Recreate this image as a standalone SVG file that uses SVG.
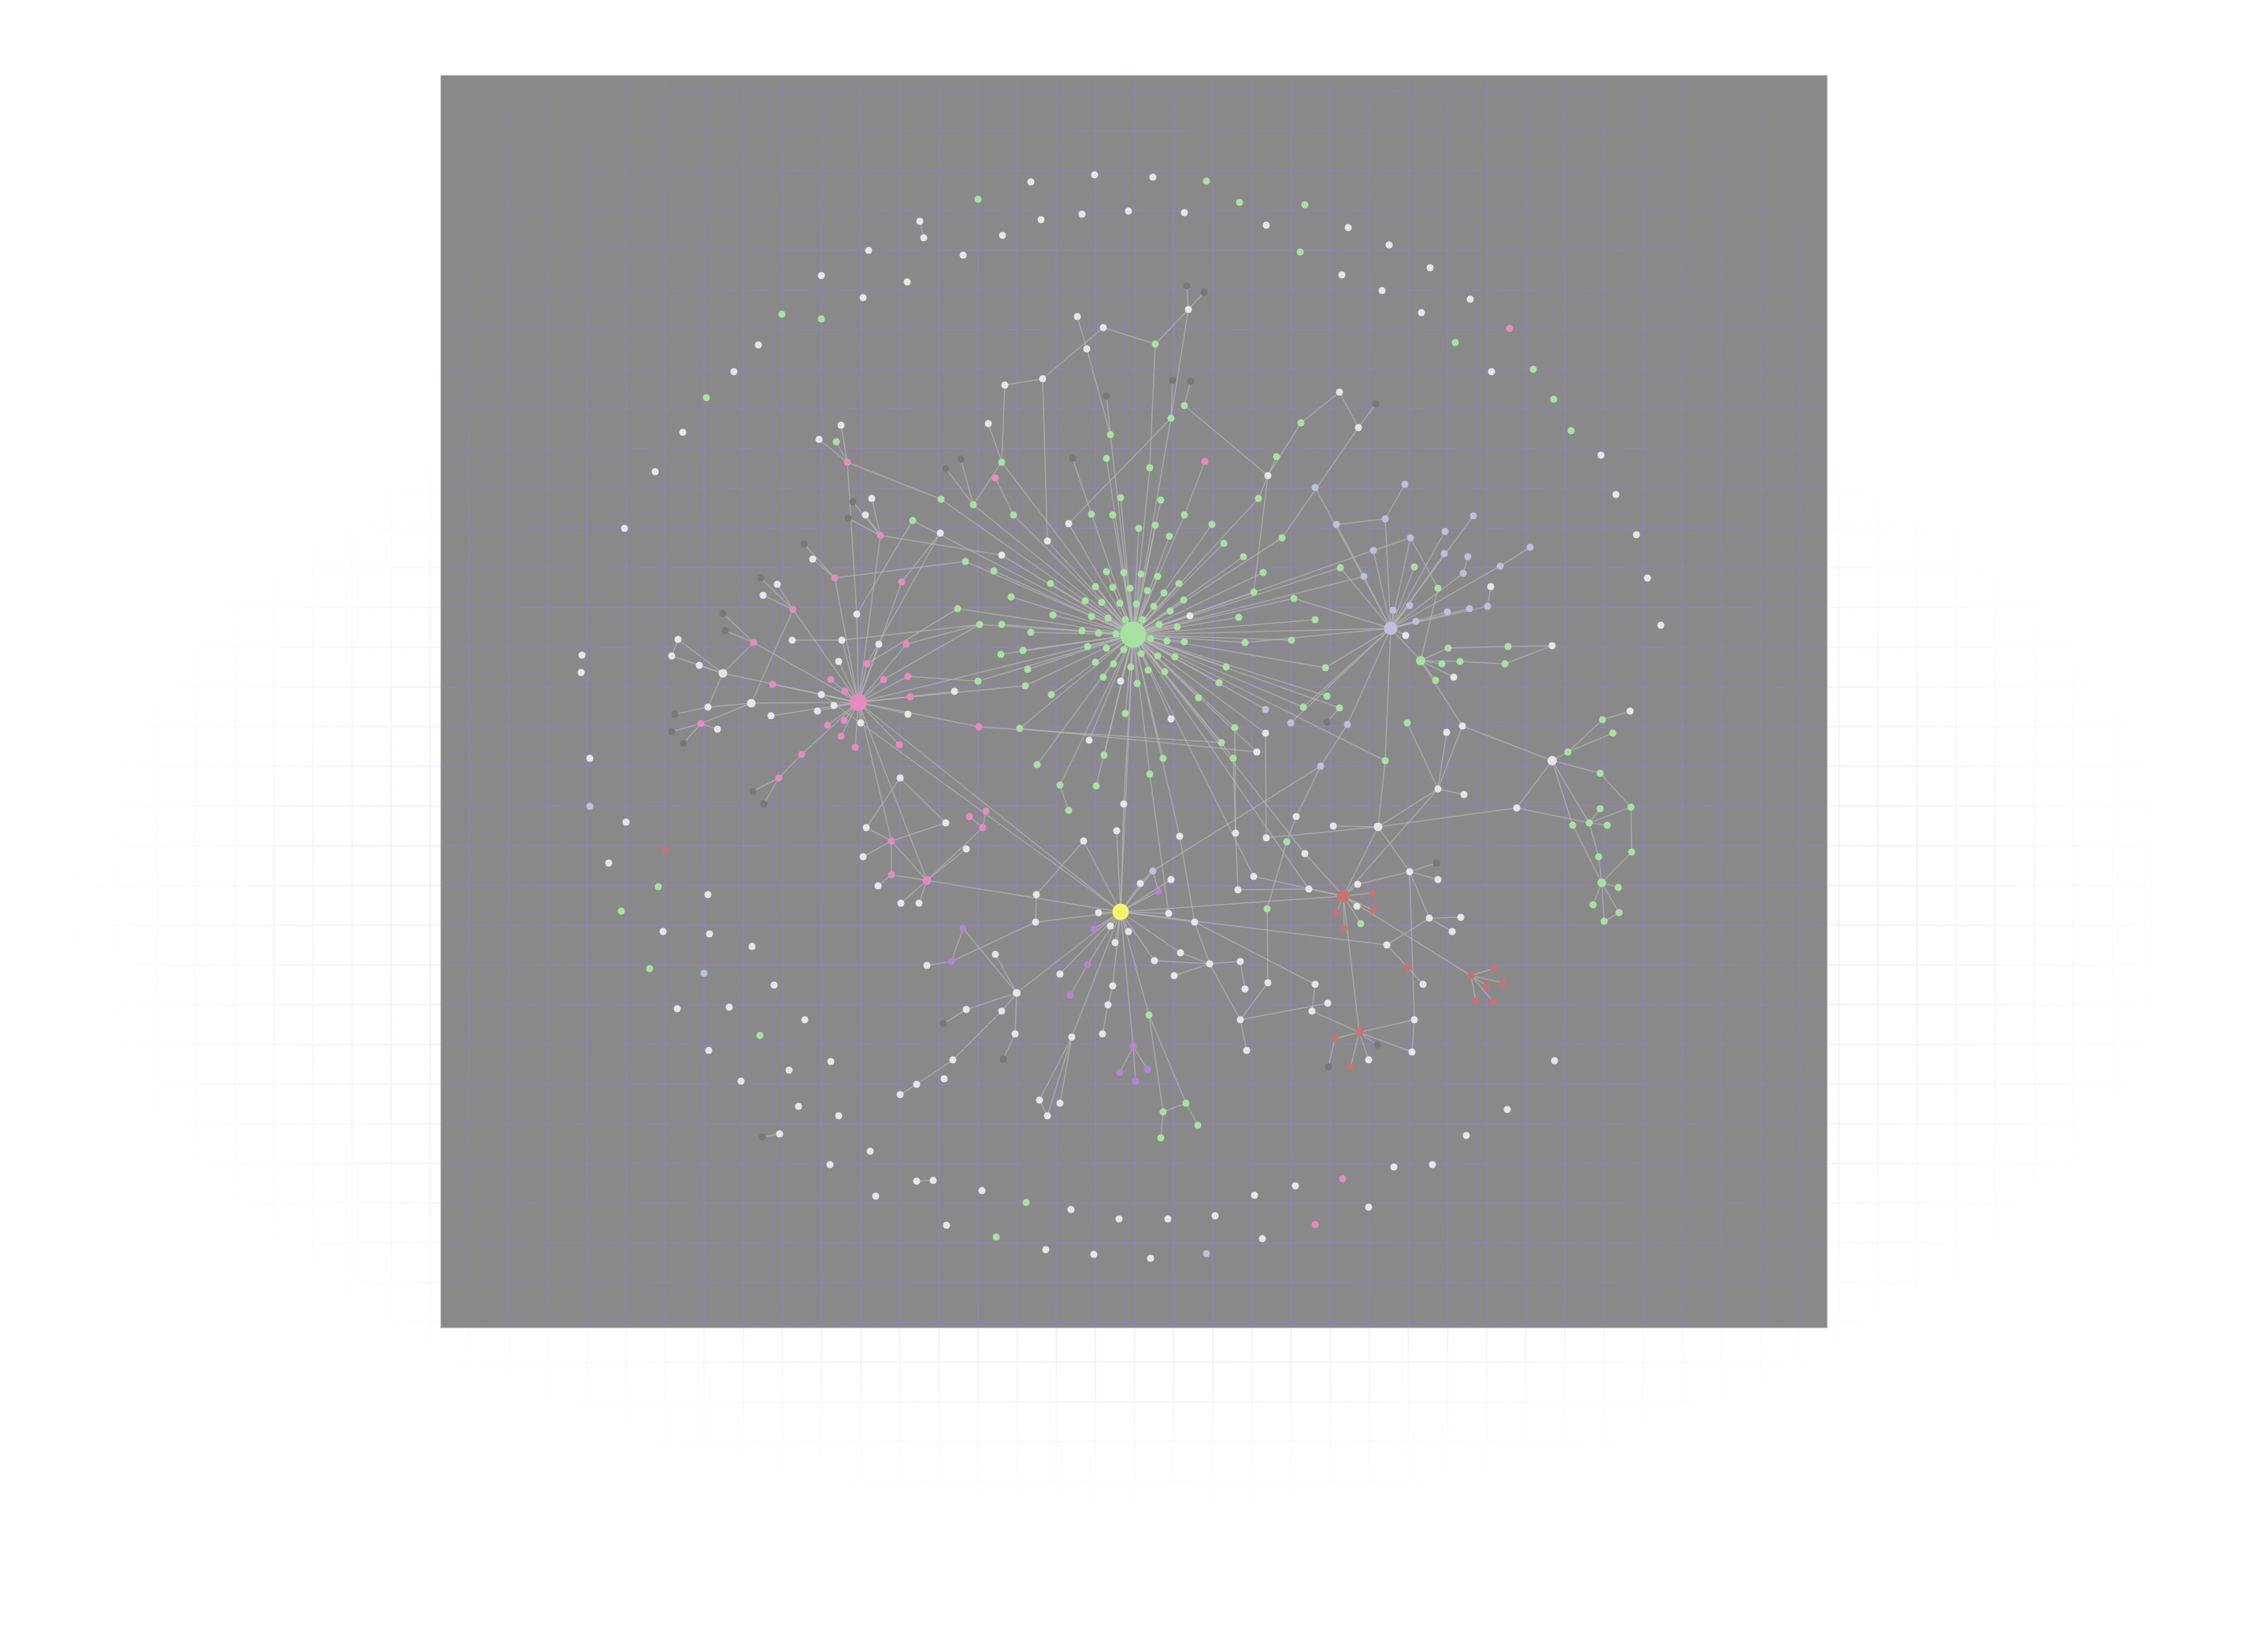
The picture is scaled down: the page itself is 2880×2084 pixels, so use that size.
<svg xmlns="http://www.w3.org/2000/svg" width="2880" height="2084" viewBox="0 0 2880 2084">
<defs>
<style>
.w{fill:#e6e6ea}.g{fill:#a6e3a1}.p{fill:#e68ac2}.y{fill:#f3f56a}.l{fill:#bcc0dc}.r{fill:#c97272}.m{fill:#b683d4}.d{fill:#787878}
#edges line{stroke:#bababa;stroke-opacity:.62;stroke-width:1.5}
</style>
<pattern id="gpo" patternUnits="userSpaceOnUse" x="-24.84" y="-10.115" width="49.68" height="50.43">
<path d="M0 25.215H49.68M24.84 0V50.43" stroke="#d8d0f0" stroke-width="1.5" fill="none"/>
</pattern>
<pattern id="gpi" patternUnits="userSpaceOnUse" x="-24.84" y="-10.115" width="49.68" height="50.43">
<path d="M0 25.215H49.68M24.84 0V50.43" stroke="#9282bc" stroke-width="1.5" fill="none"/>
</pattern>
<radialGradient id="rgo" gradientUnits="userSpaceOnUse" cx="0" cy="0" r="1" gradientTransform="translate(1440 1150) scale(1350 780)">
<stop offset="0" stop-color="#fff" stop-opacity=".55"/>
<stop offset="0.7" stop-color="#fff" stop-opacity=".4"/>
<stop offset="1" stop-color="#fff" stop-opacity="0"/>
</radialGradient>
<radialGradient id="rgi" gradientUnits="userSpaceOnUse" cx="1440" cy="1000" r="1300">
<stop offset="0" stop-color="#fff" stop-opacity=".95"/>
<stop offset="0.55" stop-color="#fff" stop-opacity=".8"/>
<stop offset="1" stop-color="#fff" stop-opacity=".05"/>
</radialGradient>
<mask id="mo"><rect width="2880" height="2084" fill="url(#rgo)"/></mask>
<mask id="mi"><rect width="2880" height="2084" fill="url(#rgi)"/></mask>
<clipPath id="cr"><rect x="560" y="96" width="1760" height="1590"/></clipPath>
</defs>
<rect width="2880" height="2084" fill="#ffffff"/>
<rect width="2880" height="2084" fill="url(#gpo)" mask="url(#mo)"/>
<rect x="560" y="96" width="1760" height="1590" fill="#898989" stroke="#9c9c9c" stroke-width="1"/>
<g clip-path="url(#cr)"><rect x="560" y="96" width="1760" height="1590" fill="url(#gpi)" mask="url(#mi)"/></g>
<g id="edges">
<line x1="1168" y1="281" x2="1173" y2="302"/><line x1="2070" y1="903" x2="2035" y2="914"/><line x1="968" y1="1444" x2="990" y2="1440"/><line x1="1164" y1="1500" x2="1185" y2="1499"/>
<line x1="1439" y1="806" x2="1386" y2="653"/><line x1="1439" y1="806" x2="1413" y2="654"/><line x1="1439" y1="806" x2="1504" y2="654"/><line x1="1439" y1="806" x2="1446" y2="671"/><line x1="1439" y1="806" x2="1467" y2="667"/><line x1="1439" y1="806" x2="1539" y2="666"/><line x1="1439" y1="806" x2="1485" y2="681"/><line x1="1439" y1="806" x2="1554" y2="690"/><line x1="1439" y1="806" x2="1579" y2="707"/><line x1="1439" y1="806" x2="1405" y2="726"/><line x1="1439" y1="806" x2="1427" y2="727"/><line x1="1439" y1="806" x2="1449" y2="729"/><line x1="1439" y1="806" x2="1470" y2="732"/><line x1="1439" y1="806" x2="1497" y2="741"/><line x1="1439" y1="806" x2="1391" y2="745"/><line x1="1439" y1="806" x2="1413" y2="746"/><line x1="1439" y1="806" x2="1435" y2="747"/><line x1="1439" y1="806" x2="1457" y2="750"/><line x1="1439" y1="806" x2="1478" y2="753"/><line x1="1439" y1="806" x2="1503" y2="762"/><line x1="1439" y1="806" x2="1592" y2="752"/><line x1="1439" y1="806" x2="1378" y2="763"/><line x1="1439" y1="806" x2="1399" y2="765"/><line x1="1439" y1="806" x2="1422" y2="766"/><line x1="1439" y1="806" x2="1443" y2="767"/><line x1="1439" y1="806" x2="1465" y2="770"/><line x1="1439" y1="806" x2="1486" y2="776"/><line x1="1439" y1="806" x2="1386" y2="783"/><line x1="1439" y1="806" x2="1407" y2="785"/><line x1="1439" y1="806" x2="1429" y2="787"/><line x1="1439" y1="806" x2="1451" y2="787"/><line x1="1439" y1="806" x2="1573" y2="784"/><line x1="1439" y1="806" x2="1472" y2="793"/><line x1="1439" y1="806" x2="1495" y2="796"/><line x1="1439" y1="806" x2="1374" y2="801"/><line x1="1439" y1="806" x2="1395" y2="804"/><line x1="1439" y1="806" x2="1461" y2="811"/><line x1="1439" y1="806" x2="1482" y2="814"/><line x1="1439" y1="806" x2="1504" y2="815"/><line x1="1439" y1="806" x2="1581" y2="816"/><line x1="1439" y1="806" x2="1381" y2="821"/><line x1="1439" y1="806" x2="1405" y2="823"/><line x1="1439" y1="806" x2="1449" y2="830"/><line x1="1439" y1="806" x2="1470" y2="833"/><line x1="1439" y1="806" x2="1492" y2="834"/><line x1="1439" y1="806" x2="1391" y2="841"/><line x1="1439" y1="806" x2="1414" y2="843"/><line x1="1439" y1="806" x2="1436" y2="847"/><line x1="1439" y1="806" x2="1458" y2="851"/><line x1="1439" y1="806" x2="1479" y2="853"/><line x1="1439" y1="806" x2="1557" y2="847"/><line x1="1439" y1="806" x2="1401" y2="860"/><line x1="1439" y1="806" x2="1444" y2="868"/><line x1="1439" y1="806" x2="1548" y2="867"/><line x1="1439" y1="806" x2="1522" y2="886"/><line x1="1439" y1="806" x2="1429" y2="906"/><line x1="1439" y1="806" x2="1568" y2="924"/><line x1="1439" y1="806" x2="1551" y2="943"/>
<line x1="1439" y1="806" x2="1511" y2="782"/><line x1="1439" y1="806" x2="1423" y2="865"/><line x1="1439" y1="806" x2="1487" y2="913"/><line x1="1439" y1="806" x2="1383" y2="940"/><line x1="1439" y1="806" x2="1357" y2="665"/><line x1="1439" y1="806" x2="1330" y2="687"/><line x1="1439" y1="806" x2="1272" y2="705"/>
<line x1="1439" y1="806" x2="1226" y2="713"/><line x1="1439" y1="806" x2="1262" y2="725"/><line x1="1439" y1="806" x2="1284" y2="758"/><line x1="1439" y1="806" x2="1216" y2="773"/><line x1="1439" y1="806" x2="1244" y2="793"/><line x1="1439" y1="806" x2="1272" y2="793"/><line x1="1439" y1="806" x2="1271" y2="831"/><line x1="1439" y1="806" x2="1242" y2="865"/><line x1="1439" y1="806" x2="1299" y2="826"/><line x1="1439" y1="806" x2="1309" y2="803"/><line x1="1439" y1="806" x2="1305" y2="850"/><line x1="1439" y1="806" x2="1302" y2="871"/><line x1="1439" y1="806" x2="1334" y2="741"/><line x1="1439" y1="806" x2="1337" y2="781"/><line x1="1439" y1="806" x2="1335" y2="882"/><line x1="1439" y1="806" x2="1236" y2="641"/><line x1="1439" y1="806" x2="1287" y2="654"/><line x1="1439" y1="806" x2="1272" y2="587"/>
<line x1="1439" y1="806" x2="1410" y2="552"/><line x1="1439" y1="806" x2="1405" y2="582"/><line x1="1439" y1="806" x2="1460" y2="594"/><line x1="1439" y1="806" x2="1423" y2="632"/><line x1="1439" y1="806" x2="1474" y2="635"/><line x1="1439" y1="806" x2="1487" y2="531"/><line x1="1439" y1="806" x2="1598" y2="633"/>
<line x1="1439" y1="806" x2="1628" y2="683"/><line x1="1439" y1="806" x2="1604" y2="727"/><line x1="1439" y1="806" x2="1643" y2="760"/><line x1="1439" y1="806" x2="1670" y2="787"/><line x1="1439" y1="806" x2="1640" y2="813"/><line x1="1439" y1="806" x2="1655" y2="898"/><line x1="1439" y1="806" x2="1607" y2="901"/>
<line x1="1439" y1="806" x2="1295" y2="925"/><line x1="1439" y1="806" x2="1402" y2="959"/><line x1="1439" y1="806" x2="1317" y2="971"/><line x1="1439" y1="806" x2="1346" y2="997"/><line x1="1439" y1="806" x2="1392" y2="998"/><line x1="1439" y1="806" x2="1477" y2="963"/><line x1="1439" y1="806" x2="1460" y2="983"/><line x1="1439" y1="806" x2="1427" y2="1021"/><line x1="1439" y1="806" x2="1596" y2="955"/><line x1="1439" y1="806" x2="1607" y2="931"/><line x1="1439" y1="806" x2="1566" y2="963"/><line x1="1439" y1="806" x2="1498" y2="1062"/><line x1="1439" y1="806" x2="1592" y2="1113"/><line x1="1439" y1="806" x2="1662" y2="1129"/><line x1="1439" y1="806" x2="1657" y2="1084"/>
<line x1="1439" y1="806" x2="1090" y2="892"/><line x1="1439" y1="806" x2="1423" y2="1158"/><line x1="1439" y1="806" x2="1766" y2="798"/>
<line x1="1439" y1="806" x2="1702" y2="721"/><line x1="1439" y1="806" x2="1683" y2="848"/><line x1="1439" y1="806" x2="1685" y2="884"/><line x1="1439" y1="806" x2="1701" y2="899"/><line x1="1439" y1="806" x2="1759" y2="966"/><line x1="1439" y1="806" x2="1195" y2="634"/><line x1="1439" y1="806" x2="1159" y2="661"/><line x1="1439" y1="806" x2="1744" y2="699"/><line x1="1439" y1="806" x2="1732" y2="732"/>
<line x1="1509" y1="393" x2="1507" y2="363"/><line x1="1509" y1="393" x2="1529" y2="371"/><line x1="1509" y1="393" x2="1467" y2="437"/><line x1="1509" y1="393" x2="1487" y2="531"/><line x1="1467" y1="437" x2="1401" y2="416"/><line x1="1467" y1="437" x2="1460" y2="594"/><line x1="1401" y1="416" x2="1324" y2="481"/><line x1="1380" y1="443" x2="1368" y2="402"/><line x1="1380" y1="443" x2="1410" y2="552"/><line x1="1324" y1="481" x2="1276" y2="489"/><line x1="1324" y1="481" x2="1330" y2="687"/><line x1="1276" y1="489" x2="1272" y2="587"/><line x1="1255" y1="538" x2="1272" y2="587"/><line x1="1489" y1="483" x2="1487" y2="531"/><line x1="1512" y1="484" x2="1504" y2="515"/><line x1="1504" y1="515" x2="1610" y2="604"/><line x1="1487" y1="531" x2="1357" y2="665"/><line x1="1405" y1="503" x2="1410" y2="552"/><line x1="1362" y1="582" x2="1386" y2="653"/><line x1="1220" y1="583" x2="1236" y2="641"/><line x1="1264" y1="607" x2="1287" y2="654"/><line x1="1272" y1="587" x2="1236" y2="641"/><line x1="1530" y1="586" x2="1504" y2="654"/><line x1="1610" y1="604" x2="1652" y2="537"/><line x1="1610" y1="604" x2="1621" y2="580"/><line x1="1610" y1="604" x2="1598" y2="633"/><line x1="1610" y1="604" x2="1592" y2="752"/><line x1="1670" y1="619" x2="1766" y2="798"/><line x1="1652" y1="537" x2="1701" y2="498"/><line x1="1701" y1="498" x2="1725" y2="543"/><line x1="1747" y1="513" x2="1725" y2="543"/><line x1="1725" y1="543" x2="1628" y2="683"/><line x1="1201" y1="595" x2="1236" y2="641"/>
<line x1="1068" y1="540" x2="1076" y2="587"/><line x1="1040" y1="558" x2="1076" y2="587"/><line x1="1062" y1="561" x2="1076" y2="587"/><line x1="1076" y1="587" x2="1195" y2="634"/><line x1="1076" y1="587" x2="1088" y2="780"/><line x1="1088" y1="780" x2="1090" y2="892"/><line x1="1118" y1="680" x2="1107" y2="633"/><line x1="1118" y1="680" x2="1083" y2="637"/><line x1="1118" y1="680" x2="1099" y2="654"/><line x1="1118" y1="680" x2="1077" y2="658"/><line x1="1118" y1="680" x2="1272" y2="705"/><line x1="1118" y1="680" x2="1090" y2="892"/><line x1="1060" y1="734" x2="1021" y2="691"/><line x1="1060" y1="734" x2="1032" y2="710"/><line x1="1060" y1="734" x2="1226" y2="713"/><line x1="1060" y1="734" x2="1090" y2="892"/><line x1="1145" y1="739" x2="1194" y2="677"/><line x1="1145" y1="739" x2="1090" y2="892"/><line x1="1159" y1="661" x2="1088" y2="780"/><line x1="1194" y1="677" x2="1101" y2="843"/><line x1="1007" y1="774" x2="966" y2="734"/><line x1="1007" y1="774" x2="987" y2="742"/><line x1="1007" y1="774" x2="969" y2="756"/><line x1="1007" y1="774" x2="1090" y2="892"/><line x1="1007" y1="774" x2="954" y2="893"/><line x1="957" y1="816" x2="918" y2="779"/><line x1="957" y1="816" x2="921" y2="801"/><line x1="957" y1="816" x2="1090" y2="892"/><line x1="918" y1="855" x2="861" y2="812"/><line x1="918" y1="855" x2="853" y2="833"/><line x1="918" y1="855" x2="888" y2="845"/><line x1="918" y1="855" x2="899" y2="898"/><line x1="918" y1="855" x2="957" y2="816"/><line x1="918" y1="855" x2="1090" y2="892"/><line x1="861" y1="812" x2="853" y2="833"/><line x1="1006" y1="813" x2="1069" y2="813"/><line x1="1069" y1="813" x2="1090" y2="892"/><line x1="1069" y1="813" x2="1244" y2="793"/><line x1="1065" y1="840" x2="1090" y2="892"/><line x1="1116" y1="818" x2="1090" y2="892"/><line x1="1151" y1="818" x2="1090" y2="892"/><line x1="1151" y1="818" x2="1244" y2="793"/>
<line x1="1090" y1="892" x2="1101" y2="843"/><line x1="1090" y1="892" x2="1055" y2="863"/><line x1="1090" y1="892" x2="1122" y2="863"/><line x1="1090" y1="892" x2="1153" y2="859"/><line x1="1090" y1="892" x2="981" y2="869"/><line x1="1090" y1="892" x2="1073" y2="878"/><line x1="1090" y1="892" x2="1156" y2="885"/><line x1="1090" y1="892" x2="1051" y2="921"/><line x1="1090" y1="892" x2="1072" y2="915"/><line x1="1090" y1="892" x2="1068" y2="935"/><line x1="1090" y1="892" x2="1086" y2="949"/><line x1="1090" y1="892" x2="1142" y2="946"/><line x1="1090" y1="892" x2="1018" y2="958"/><line x1="1090" y1="892" x2="1243" y2="923"/><line x1="1090" y1="892" x2="1043" y2="882"/><line x1="1090" y1="892" x2="1059" y2="896"/><line x1="1090" y1="892" x2="1038" y2="903"/><line x1="1090" y1="892" x2="1093" y2="918"/><line x1="1090" y1="892" x2="1153" y2="907"/><line x1="1090" y1="892" x2="1212" y2="878"/><line x1="1090" y1="892" x2="954" y2="893"/><line x1="1090" y1="892" x2="979" y2="909"/>
<line x1="954" y1="893" x2="899" y2="898"/><line x1="899" y1="898" x2="857" y2="907"/><line x1="954" y1="893" x2="890" y2="919"/><line x1="890" y1="919" x2="853" y2="929"/><line x1="890" y1="919" x2="868" y2="944"/><line x1="890" y1="919" x2="911" y2="926"/><line x1="1018" y1="958" x2="989" y2="988"/><line x1="989" y1="988" x2="956" y2="1005"/><line x1="989" y1="988" x2="970" y2="1021"/><line x1="1143" y1="988" x2="1100" y2="1051"/><line x1="1090" y1="892" x2="1132" y2="1068"/><line x1="1090" y1="892" x2="1177" y2="1118"/><line x1="1090" y1="892" x2="1423" y2="1158"/><line x1="1043" y1="882" x2="1423" y2="1158"/><line x1="1132" y1="1068" x2="1100" y2="1051"/><line x1="1132" y1="1068" x2="1096" y2="1088"/><line x1="1132" y1="1068" x2="1201" y2="1045"/><line x1="1132" y1="1068" x2="1132" y2="1111"/><line x1="1132" y1="1068" x2="1177" y2="1118"/><line x1="1132" y1="1111" x2="1177" y2="1118"/><line x1="1115" y1="1125" x2="1132" y2="1111"/><line x1="1177" y1="1118" x2="1144" y2="1147"/><line x1="1177" y1="1118" x2="1167" y2="1147"/><line x1="1177" y1="1118" x2="1248" y2="1051"/><line x1="1248" y1="1051" x2="1231" y2="1037"/><line x1="1248" y1="1051" x2="1252" y2="1030"/><line x1="1177" y1="1118" x2="1227" y2="1078"/><line x1="1177" y1="1118" x2="1423" y2="1158"/><line x1="1201" y1="1045" x2="1143" y2="988"/><line x1="1177" y1="1226" x2="1208" y2="1221"/><line x1="1208" y1="1221" x2="1223" y2="1179"/><line x1="1208" y1="1221" x2="1315" y2="1171"/><line x1="1143" y1="1390" x2="1164" y2="1377"/><line x1="1164" y1="1377" x2="1210" y2="1346"/><line x1="1210" y1="1346" x2="1272" y2="1284"/><line x1="1198" y1="1300" x2="1227" y2="1282"/><line x1="1153" y1="859" x2="1242" y2="865"/><line x1="1122" y1="863" x2="1244" y2="793"/><line x1="1156" y1="885" x2="1302" y2="871"/><line x1="1243" y1="923" x2="1551" y2="943"/><line x1="1295" y1="925" x2="1596" y2="955"/><line x1="1101" y1="843" x2="1216" y2="773"/>
<line x1="1423" y1="1158" x2="1395" y2="1159"/><line x1="1423" y1="1158" x2="1410" y2="1176"/><line x1="1423" y1="1158" x2="1433" y2="1183"/><line x1="1423" y1="1158" x2="1416" y2="1197"/><line x1="1423" y1="1158" x2="1389" y2="1180"/><line x1="1423" y1="1158" x2="1448" y2="1122"/><line x1="1423" y1="1158" x2="1471" y2="1132"/><line x1="1423" y1="1158" x2="1487" y2="1117"/><line x1="1423" y1="1158" x2="1484" y2="1160"/><line x1="1423" y1="1158" x2="1413" y2="1252"/><line x1="1423" y1="1158" x2="1361" y2="1317"/><line x1="1423" y1="1158" x2="1381" y2="1225"/><line x1="1423" y1="1158" x2="1439" y2="1329"/><line x1="1423" y1="1158" x2="1459" y2="1289"/><line x1="1423" y1="1158" x2="1346" y2="1237"/><line x1="1423" y1="1158" x2="1291" y2="1261"/><line x1="1423" y1="1158" x2="1315" y2="1171"/><line x1="1423" y1="1158" x2="1517" y2="1171"/><line x1="1423" y1="1158" x2="1499" y2="1210"/><line x1="1423" y1="1158" x2="1466" y2="1220"/><line x1="1423" y1="1158" x2="1427" y2="1021"/><line x1="1423" y1="1158" x2="1418" y2="1055"/><line x1="1423" y1="1158" x2="1464" y2="1106"/><line x1="1423" y1="1158" x2="1706" y2="1138"/><line x1="1423" y1="1158" x2="1761" y2="1200"/><line x1="1423" y1="1158" x2="1376" y2="1068"/><line x1="1400" y1="1313" x2="1407" y2="1276"/><line x1="1407" y1="1276" x2="1413" y2="1252"/>
<line x1="1439" y1="1329" x2="1422" y2="1362"/><line x1="1439" y1="1329" x2="1457" y2="1358"/><line x1="1439" y1="1329" x2="1442" y2="1373"/><line x1="1459" y1="1289" x2="1477" y2="1412"/><line x1="1477" y1="1412" x2="1474" y2="1445"/><line x1="1477" y1="1412" x2="1506" y2="1401"/><line x1="1506" y1="1401" x2="1521" y2="1429"/><line x1="1459" y1="1289" x2="1506" y2="1401"/><line x1="1361" y1="1317" x2="1320" y2="1397"/><line x1="1361" y1="1317" x2="1346" y2="1401"/><line x1="1361" y1="1317" x2="1330" y2="1417"/><line x1="1320" y1="1397" x2="1330" y2="1417"/><line x1="1359" y1="1264" x2="1381" y2="1225"/><line x1="1291" y1="1261" x2="1264" y2="1212"/><line x1="1291" y1="1261" x2="1227" y2="1282"/><line x1="1291" y1="1261" x2="1289" y2="1313"/><line x1="1291" y1="1261" x2="1223" y2="1179"/><line x1="1289" y1="1313" x2="1274" y2="1345"/><line x1="1272" y1="1284" x2="1291" y2="1261"/><line x1="1316" y1="1136" x2="1315" y2="1171"/><line x1="1316" y1="1136" x2="1376" y2="1068"/><line x1="1498" y1="1062" x2="1517" y2="1171"/><line x1="1460" y1="983" x2="1484" y2="1160"/><line x1="1448" y1="1122" x2="1464" y2="1106"/><line x1="1464" y1="1106" x2="1471" y2="1132"/><line x1="1464" y1="1106" x2="1677" y2="973"/><line x1="1569" y1="1058" x2="1568" y2="924"/><line x1="1572" y1="1130" x2="1569" y2="1058"/><line x1="1607" y1="931" x2="1608" y2="1064"/><line x1="1634" y1="1069" x2="1609" y2="1154"/><line x1="1609" y1="1154" x2="1610" y2="1248"/><line x1="1634" y1="1069" x2="1646" y2="1037"/><line x1="1646" y1="1037" x2="1677" y2="973"/><line x1="1572" y1="1130" x2="1662" y2="1129"/><line x1="1566" y1="963" x2="1569" y2="1058"/><line x1="1466" y1="1220" x2="1536" y2="1224"/><line x1="1536" y1="1224" x2="1575" y2="1221"/><line x1="1499" y1="1210" x2="1536" y2="1224"/><line x1="1491" y1="1239" x2="1536" y2="1224"/><line x1="1536" y1="1224" x2="1517" y2="1171"/><line x1="1536" y1="1224" x2="1575" y2="1295"/><line x1="1575" y1="1295" x2="1583" y2="1334"/><line x1="1575" y1="1295" x2="1610" y2="1248"/><line x1="1581" y1="1256" x2="1575" y2="1221"/><line x1="1670" y1="1250" x2="1666" y2="1284"/><line x1="1517" y1="1171" x2="1670" y2="1250"/><line x1="1686" y1="1274" x2="1575" y2="1295"/><line x1="1357" y1="1029" x2="1346" y2="997"/>
<line x1="1766" y1="798" x2="1759" y2="659"/><line x1="1766" y1="798" x2="1791" y2="683"/><line x1="1766" y1="798" x2="1744" y2="699"/><line x1="1766" y1="798" x2="1732" y2="732"/><line x1="1766" y1="798" x2="1871" y2="655"/><line x1="1766" y1="798" x2="1835" y2="675"/><line x1="1766" y1="798" x2="1834" y2="703"/><line x1="1766" y1="798" x2="1858" y2="728"/><line x1="1766" y1="798" x2="1905" y2="719"/><line x1="1766" y1="798" x2="1889" y2="770"/><line x1="1766" y1="798" x2="1866" y2="773"/><line x1="1766" y1="798" x2="1838" y2="777"/><line x1="1766" y1="798" x2="1790" y2="769"/><line x1="1766" y1="798" x2="1769" y2="775"/><line x1="1766" y1="798" x2="1798" y2="789"/><line x1="1766" y1="798" x2="1785" y2="807"/><line x1="1766" y1="798" x2="1804" y2="839"/><line x1="1766" y1="798" x2="1711" y2="920"/><line x1="1766" y1="798" x2="1759" y2="966"/><line x1="1766" y1="798" x2="1639" y2="918"/><line x1="1766" y1="798" x2="1643" y2="760"/><line x1="1766" y1="798" x2="1581" y2="816"/><line x1="1766" y1="798" x2="1655" y2="898"/><line x1="1766" y1="798" x2="1702" y2="721"/><line x1="1766" y1="798" x2="1683" y2="848"/><line x1="1766" y1="798" x2="1796" y2="720"/>
<line x1="1784" y1="615" x2="1759" y2="659"/><line x1="1697" y1="666" x2="1759" y2="659"/><line x1="1697" y1="666" x2="1732" y2="732"/><line x1="1791" y1="683" x2="1744" y2="699"/><line x1="1791" y1="683" x2="1826" y2="747"/><line x1="1864" y1="707" x2="1858" y2="728"/><line x1="1943" y1="695" x2="1905" y2="719"/><line x1="1893" y1="745" x2="1889" y2="770"/>
<line x1="1804" y1="839" x2="1839" y2="823"/><line x1="1839" y1="823" x2="1915" y2="821"/><line x1="1915" y1="821" x2="1971" y2="820"/><line x1="1804" y1="839" x2="1854" y2="840"/><line x1="1854" y1="840" x2="1911" y2="843"/><line x1="1911" y1="843" x2="1971" y2="820"/><line x1="1804" y1="839" x2="1831" y2="843"/><line x1="1804" y1="839" x2="1823" y2="864"/><line x1="1804" y1="839" x2="1846" y2="860"/><line x1="1804" y1="839" x2="1826" y2="747"/><line x1="1804" y1="839" x2="1857" y2="922"/><line x1="1677" y1="973" x2="1711" y2="920"/><line x1="1685" y1="917" x2="1701" y2="899"/>
<line x1="1971" y1="966" x2="1991" y2="955"/><line x1="1991" y1="955" x2="2035" y2="914"/><line x1="1991" y1="955" x2="2048" y2="931"/><line x1="1971" y1="966" x2="2032" y2="982"/><line x1="2032" y1="982" x2="2071" y2="1025"/><line x1="2071" y1="1025" x2="2072" y2="1082"/><line x1="2072" y1="1082" x2="2034" y2="1121"/><line x1="1971" y1="966" x2="1997" y2="1048"/><line x1="1997" y1="1048" x2="2034" y2="1121"/><line x1="1971" y1="966" x2="2018" y2="1045"/><line x1="2018" y1="1045" x2="2032" y2="1027"/><line x1="2018" y1="1045" x2="2041" y2="1048"/><line x1="2018" y1="1045" x2="2071" y2="1025"/><line x1="2018" y1="1045" x2="2030" y2="1088"/><line x1="2030" y1="1088" x2="2034" y2="1121"/><line x1="2034" y1="1121" x2="2055" y2="1127"/><line x1="2034" y1="1121" x2="2023" y2="1149"/><line x1="2034" y1="1121" x2="2056" y2="1159"/><line x1="2034" y1="1121" x2="2037" y2="1170"/><line x1="2037" y1="1170" x2="2056" y2="1159"/><line x1="1971" y1="966" x2="1926" y2="1026"/><line x1="1926" y1="1026" x2="2018" y2="1045"/><line x1="1926" y1="1026" x2="1750" y2="1050"/><line x1="1971" y1="966" x2="1857" y2="922"/>
<line x1="1857" y1="922" x2="1826" y2="1002"/><line x1="1837" y1="930" x2="1826" y2="1002"/><line x1="1787" y1="918" x2="1826" y2="1002"/><line x1="1826" y1="1002" x2="1859" y2="1009"/><line x1="1826" y1="1002" x2="1750" y2="1050"/><line x1="1826" y1="1002" x2="1706" y2="1138"/><line x1="1750" y1="1050" x2="1693" y2="1049"/><line x1="1750" y1="1050" x2="1706" y2="1138"/><line x1="1750" y1="1050" x2="1759" y2="966"/><line x1="1750" y1="1050" x2="1790" y2="1107"/><line x1="1750" y1="1050" x2="1608" y2="1064"/>
<line x1="1790" y1="1107" x2="1824" y2="1096"/><line x1="1790" y1="1107" x2="1826" y2="1117"/><line x1="1790" y1="1107" x2="1815" y2="1166"/><line x1="1790" y1="1107" x2="1796" y2="1295"/><line x1="1724" y1="1123" x2="1790" y2="1107"/><line x1="1815" y1="1166" x2="1855" y2="1165"/><line x1="1815" y1="1166" x2="1844" y2="1183"/><line x1="1815" y1="1166" x2="1761" y2="1200"/><line x1="1761" y1="1200" x2="1787" y2="1228"/><line x1="1787" y1="1228" x2="1807" y2="1250"/>
<line x1="1706" y1="1138" x2="1743" y2="1134"/><line x1="1706" y1="1138" x2="1744" y2="1156"/><line x1="1706" y1="1138" x2="1723" y2="1151"/><line x1="1706" y1="1138" x2="1697" y2="1159"/><line x1="1706" y1="1138" x2="1707" y2="1179"/><line x1="1706" y1="1138" x2="1724" y2="1123"/><line x1="1706" y1="1138" x2="1728" y2="1173"/><line x1="1706" y1="1138" x2="1726" y2="1311"/><line x1="1706" y1="1138" x2="1868" y2="1239"/><line x1="1706" y1="1138" x2="1657" y2="1084"/><line x1="1706" y1="1138" x2="1662" y2="1129"/><line x1="1706" y1="1138" x2="1592" y2="1113"/>
<line x1="1868" y1="1239" x2="1897" y2="1230"/><line x1="1868" y1="1239" x2="1909" y2="1248"/><line x1="1868" y1="1239" x2="1888" y2="1252"/><line x1="1868" y1="1239" x2="1874" y2="1271"/><line x1="1868" y1="1239" x2="1896" y2="1272"/>
<line x1="1726" y1="1311" x2="1695" y2="1319"/><line x1="1726" y1="1311" x2="1715" y2="1355"/><line x1="1726" y1="1311" x2="1738" y2="1346"/><line x1="1726" y1="1311" x2="1749" y2="1327"/><line x1="1726" y1="1311" x2="1796" y2="1295"/><line x1="1726" y1="1311" x2="1793" y2="1336"/><line x1="1726" y1="1311" x2="1666" y2="1284"/><line x1="1695" y1="1319" x2="1687" y2="1355"/><line x1="1796" y1="1295" x2="1793" y2="1336"/>
</g>
<g id="nodes">
<g id="n1"><circle class="w" cx="1168" cy="281" r="4.5"/></g>
<g id="n2"><circle class="w" cx="1173" cy="302" r="4.5"/></g>
<g id="n3"><circle class="w" cx="1103" cy="318" r="4.5"/></g>
<g id="n4"><circle class="w" cx="1043" cy="350" r="4.5"/></g>
<g id="n5"><circle class="w" cx="1152" cy="358" r="4.5"/></g>
<g id="n6"><circle class="w" cx="1096" cy="378" r="4.5"/></g>
<g id="n7"><circle class="g" cx="993" cy="399" r="4.5"/></g>
<g id="n8"><circle class="g" cx="1043" cy="405" r="4.5"/></g>
<g id="n9"><circle class="w" cx="963" cy="438" r="4.5"/></g>
<g id="n10"><circle class="w" cx="932" cy="472" r="4.5"/></g>
<g id="n11"><circle class="g" cx="897" cy="505" r="4.5"/></g>
<g id="n12"><circle class="w" cx="867" cy="549" r="4.5"/></g>
<g id="n13"><circle class="w" cx="832" cy="599" r="4.5"/></g>
<g id="n14"><circle class="w" cx="793" cy="671" r="4.5"/></g>
<g id="n15"><circle class="g" cx="1242" cy="253" r="4.5"/></g>
<g id="n16"><circle class="w" cx="1309" cy="231" r="4.5"/></g>
<g id="n17"><circle class="w" cx="1390" cy="222" r="4.5"/></g>
<g id="n18"><circle class="w" cx="1464" cy="225" r="4.5"/></g>
<g id="n19"><circle class="g" cx="1532" cy="230" r="4.5"/></g>
<g id="n20"><circle class="g" cx="1574" cy="257" r="4.5"/></g>
<g id="n21"><circle class="g" cx="1657" cy="260" r="4.5"/></g>
<g id="n22"><circle class="w" cx="1322" cy="279" r="4.5"/></g>
<g id="n23"><circle class="w" cx="1374" cy="272" r="4.5"/></g>
<g id="n24"><circle class="w" cx="1433" cy="268" r="4.5"/></g>
<g id="n25"><circle class="w" cx="1504" cy="270" r="4.5"/></g>
<g id="n26"><circle class="w" cx="1608" cy="286" r="4.5"/></g>
<g id="n27"><circle class="g" cx="1651" cy="320" r="4.5"/></g>
<g id="n28"><circle class="w" cx="1273" cy="299" r="4.5"/></g>
<g id="n29"><circle class="w" cx="1223" cy="324" r="4.5"/></g>
<g id="n30"><circle class="w" cx="1712" cy="289" r="4.5"/></g>
<g id="n31"><circle class="w" cx="1764" cy="311" r="4.5"/></g>
<g id="n32"><circle class="w" cx="1704" cy="349" r="4.5"/></g>
<g id="n33"><circle class="w" cx="1816" cy="340" r="4.5"/></g>
<g id="n34"><circle class="w" cx="1755" cy="369" r="4.5"/></g>
<g id="n35"><circle class="w" cx="1867" cy="380" r="4.5"/></g>
<g id="n36"><circle class="w" cx="1805" cy="397" r="4.5"/></g>
<g id="n37"><circle class="p" cx="1917" cy="417" r="4.5"/></g>
<g id="n38"><circle class="g" cx="1848" cy="435" r="4.5"/></g>
<g id="n39"><circle class="w" cx="1894" cy="472" r="4.5"/></g>
<g id="n40"><circle class="g" cx="1947" cy="469" r="4.5"/></g>
<g id="n41"><circle class="g" cx="1973" cy="507" r="4.5"/></g>
<g id="n42"><circle class="g" cx="1995" cy="547" r="4.5"/></g>
<g id="n43"><circle class="w" cx="2033" cy="578" r="4.5"/></g>
<g id="n44"><circle class="w" cx="2052" cy="628" r="4.5"/></g>
<g id="n45"><circle class="w" cx="2078" cy="679" r="4.5"/></g>
<g id="n46"><circle class="w" cx="2092" cy="734" r="4.5"/></g>
<g id="n47"><circle class="w" cx="2109" cy="794" r="4.5"/></g>
<g id="n48"><circle class="w" cx="2070" cy="903" r="4.5"/></g>
<g id="n49"><circle class="w" cx="739" cy="832" r="4.5"/></g>
<g id="n50"><circle class="w" cx="738" cy="854" r="4.5"/></g>
<g id="n51"><circle class="w" cx="749" cy="963" r="4.5"/></g>
<g id="n52"><circle class="l" cx="749" cy="1024" r="4.5"/></g>
<g id="n53"><circle class="w" cx="795" cy="1044" r="4.5"/></g>
<g id="n54"><circle class="r" cx="845" cy="1080" r="4.5"/></g>
<g id="n55"><circle class="w" cx="773" cy="1096" r="4.5"/></g>
<g id="n56"><circle class="g" cx="836" cy="1126" r="4.5"/></g>
<g id="n57"><circle class="g" cx="789" cy="1157" r="4.5"/></g>
<g id="n58"><circle class="w" cx="899" cy="1136" r="4.5"/></g>
<g id="n59"><circle class="w" cx="842" cy="1183" r="4.5"/></g>
<g id="n60"><circle class="w" cx="901" cy="1186" r="4.5"/></g>
<g id="n61"><circle class="w" cx="955" cy="1202" r="4.5"/></g>
<g id="n62"><circle class="g" cx="825" cy="1230" r="4.5"/></g>
<g id="n63"><circle class="l" cx="894" cy="1236" r="4.5"/></g>
<g id="n64"><circle class="w" cx="983" cy="1251" r="4.5"/></g>
<g id="n65"><circle class="w" cx="860" cy="1281" r="4.5"/></g>
<g id="n66"><circle class="w" cx="926" cy="1279" r="4.5"/></g>
<g id="n67"><circle class="w" cx="1022" cy="1295" r="4.5"/></g>
<g id="n68"><circle class="g" cx="965" cy="1315" r="4.5"/></g>
<g id="n69"><circle class="w" cx="900" cy="1334" r="4.5"/></g>
<g id="n70"><circle class="w" cx="1055" cy="1348" r="4.5"/></g>
<g id="n71"><circle class="w" cx="1002" cy="1359" r="4.5"/></g>
<g id="n72"><circle class="w" cx="941" cy="1373" r="4.5"/></g>
<g id="n73"><circle class="w" cx="1014" cy="1405" r="4.5"/></g>
<g id="n74"><circle class="w" cx="1065" cy="1417" r="4.5"/></g>
<g id="n75"><circle class="d" cx="968" cy="1444" r="4.5"/></g>
<g id="n76"><circle class="w" cx="990" cy="1440" r="4.5"/></g>
<g id="n77"><circle class="w" cx="1105" cy="1462" r="4.5"/></g>
<g id="n78"><circle class="w" cx="1054" cy="1479" r="4.5"/></g>
<g id="n79"><circle class="w" cx="1164" cy="1500" r="4.5"/></g>
<g id="n80"><circle class="w" cx="1185" cy="1499" r="4.5"/></g>
<g id="n81"><circle class="w" cx="1112" cy="1519" r="4.5"/></g>
<g id="n82"><circle class="w" cx="1202" cy="1556" r="4.5"/></g>
<g id="n83"><circle class="w" cx="1247" cy="1512" r="4.5"/></g>
<g id="n84"><circle class="g" cx="1303" cy="1527" r="4.5"/></g>
<g id="n85"><circle class="w" cx="1360" cy="1536" r="4.5"/></g>
<g id="n86"><circle class="w" cx="1421" cy="1548" r="4.5"/></g>
<g id="n87"><circle class="w" cx="1483" cy="1548" r="4.5"/></g>
<g id="n88"><circle class="w" cx="1543" cy="1544" r="4.5"/></g>
<g id="n89"><circle class="w" cx="1593" cy="1518" r="4.5"/></g>
<g id="n90"><circle class="w" cx="1645" cy="1506" r="4.5"/></g>
<g id="n91"><circle class="p" cx="1670" cy="1555" r="4.5"/></g>
<g id="n92"><circle class="g" cx="1265" cy="1571" r="4.5"/></g>
<g id="n93"><circle class="w" cx="1328" cy="1587" r="4.5"/></g>
<g id="n94"><circle class="w" cx="1389" cy="1593" r="4.5"/></g>
<g id="n95"><circle class="w" cx="1461" cy="1598" r="4.5"/></g>
<g id="n96"><circle class="l" cx="1532" cy="1592" r="4.5"/></g>
<g id="n97"><circle class="w" cx="1603" cy="1573" r="4.5"/></g>
<g id="n98"><circle class="w" cx="1974" cy="1347" r="4.5"/></g>
<g id="n99"><circle class="w" cx="1914" cy="1409" r="4.5"/></g>
<g id="n100"><circle class="w" cx="1862" cy="1442" r="4.5"/></g>
<g id="n101"><circle class="w" cx="1819" cy="1479" r="4.5"/></g>
<g id="n102"><circle class="w" cx="1770" cy="1482" r="4.5"/></g>
<g id="n103"><circle class="p" cx="1705" cy="1497" r="4.5"/></g>
<g id="n104"><circle class="w" cx="1738" cy="1533" r="4.5"/></g>
<g id="n105"><circle class="d" cx="1201" cy="595" r="4.5"/></g>
<g id="n106"><circle class="g" cx="1195" cy="634" r="4.5"/></g>
<g id="n107"><circle class="w" cx="1194" cy="677" r="4.5"/></g>
<g id="n108"><circle class="w" cx="1068" cy="540" r="4.5"/></g>
<g id="n109"><circle class="w" cx="1040" cy="558" r="4.5"/></g>
<g id="n110"><circle class="g" cx="1062" cy="561" r="4.5"/></g>
<g id="n111"><circle class="p" cx="1076" cy="587" r="4.5"/></g>
<g id="n112"><circle class="w" cx="1107" cy="633" r="4.5"/></g>
<g id="n113"><circle class="d" cx="1083" cy="637" r="4.5"/></g>
<g id="n114"><circle class="w" cx="1099" cy="654" r="4.5"/></g>
<g id="n115"><circle class="d" cx="1077" cy="658" r="4.5"/></g>
<g id="n116"><circle class="g" cx="1159" cy="661" r="4.5"/></g>
<g id="n117"><circle class="p" cx="1118" cy="680" r="4.5"/></g>
<g id="n118"><circle class="d" cx="1021" cy="691" r="4.5"/></g>
<g id="n119"><circle class="w" cx="1032" cy="710" r="4.5"/></g>
<g id="n120"><circle class="p" cx="1060" cy="734" r="4.5"/></g>
<g id="n121"><circle class="p" cx="1145" cy="739" r="4.5"/></g>
<g id="n122"><circle class="d" cx="966" cy="734" r="4.5"/></g>
<g id="n123"><circle class="w" cx="987" cy="742" r="4.5"/></g>
<g id="n124"><circle class="w" cx="969" cy="756" r="4.5"/></g>
<g id="n125"><circle class="p" cx="1007" cy="774" r="4.5"/></g>
<g id="n126"><circle class="w" cx="1088" cy="780" r="4.5"/></g>
<g id="n127"><circle class="d" cx="918" cy="779" r="4.5"/></g>
<g id="n128"><circle class="d" cx="921" cy="801" r="4.5"/></g>
<g id="n129"><circle class="p" cx="957" cy="816" r="4.5"/></g>
<g id="n130"><circle class="w" cx="1006" cy="813" r="4.5"/></g>
<g id="n131"><circle class="w" cx="1069" cy="813" r="4.5"/></g>
<g id="n132"><circle class="w" cx="1116" cy="818" r="4.5"/></g>
<g id="n133"><circle class="p" cx="1151" cy="818" r="4.5"/></g>
<g id="n134"><circle class="w" cx="861" cy="812" r="4.5"/></g>
<g id="n135"><circle class="w" cx="853" cy="833" r="4.5"/></g>
<g id="n136"><circle class="w" cx="888" cy="845" r="4.5"/></g>
<g id="n137"><circle class="w" cx="918" cy="855" r="5.5"/></g>
<g id="n138"><circle class="w" cx="1065" cy="840" r="4.5"/></g>
<g id="n139"><circle class="p" cx="1101" cy="843" r="4.5"/></g>
<g id="n140"><circle class="p" cx="1055" cy="863" r="4.5"/></g>
<g id="n141"><circle class="p" cx="1122" cy="863" r="4.5"/></g>
<g id="n142"><circle class="p" cx="1153" cy="859" r="4.5"/></g>
<g id="n143"><circle class="p" cx="981" cy="869" r="4.5"/></g>
<g id="n144"><circle class="p" cx="1073" cy="878" r="4.5"/></g>
<g id="n145"><circle class="w" cx="1043" cy="882" r="4.5"/></g>
<g id="hub-pink"><circle class="p" cx="1090" cy="892" r="11"/></g>
<g id="n146"><circle class="p" cx="1156" cy="885" r="4.5"/></g>
<g id="n147"><circle class="w" cx="954" cy="893" r="5.5"/></g>
<g id="n148"><circle class="w" cx="1059" cy="896" r="4.5"/></g>
<g id="n149"><circle class="w" cx="899" cy="898" r="4.5"/></g>
<g id="n150"><circle class="w" cx="1038" cy="903" r="4.5"/></g>
<g id="n151"><circle class="w" cx="979" cy="909" r="4.5"/></g>
<g id="n152"><circle class="d" cx="857" cy="907" r="4.5"/></g>
<g id="n153"><circle class="w" cx="1153" cy="907" r="4.5"/></g>
<g id="n154"><circle class="w" cx="1212" cy="878" r="4.5"/></g>
<g id="n155"><circle class="p" cx="890" cy="919" r="4.5"/></g>
<g id="n156"><circle class="d" cx="853" cy="929" r="4.5"/></g>
<g id="n157"><circle class="d" cx="868" cy="944" r="4.5"/></g>
<g id="n158"><circle class="w" cx="911" cy="926" r="4.5"/></g>
<g id="n159"><circle class="p" cx="1051" cy="921" r="4.5"/></g>
<g id="n160"><circle class="p" cx="1072" cy="915" r="4.5"/></g>
<g id="n161"><circle class="w" cx="1093" cy="918" r="4.5"/></g>
<g id="n162"><circle class="p" cx="1068" cy="935" r="4.5"/></g>
<g id="n163"><circle class="p" cx="1086" cy="949" r="4.5"/></g>
<g id="n164"><circle class="p" cx="1142" cy="946" r="4.5"/></g>
<g id="n165"><circle class="p" cx="1018" cy="958" r="4.5"/></g>
<g id="n166"><circle class="p" cx="989" cy="988" r="4.5"/></g>
<g id="n167"><circle class="d" cx="956" cy="1005" r="4.5"/></g>
<g id="n168"><circle class="d" cx="970" cy="1021" r="4.5"/></g>
<g id="n169"><circle class="w" cx="1143" cy="988" r="4.5"/></g>
<g id="n170"><circle class="w" cx="1100" cy="1051" r="4.5"/></g>
<g id="n171"><circle class="p" cx="1132" cy="1068" r="4.5"/></g>
<g id="n172"><circle class="w" cx="1096" cy="1088" r="4.5"/></g>
<g id="n173"><circle class="w" cx="1201" cy="1045" r="4.5"/></g>
<g id="n174"><circle class="p" cx="1132" cy="1111" r="4.5"/></g>
<g id="n175"><circle class="w" cx="1115" cy="1125" r="4.5"/></g>
<g id="n176"><circle class="p" cx="1177" cy="1118" r="5.5"/></g>
<g id="n177"><circle class="w" cx="1144" cy="1147" r="4.5"/></g>
<g id="n178"><circle class="w" cx="1167" cy="1147" r="4.5"/></g>
<g id="n179"><circle class="w" cx="1177" cy="1226" r="4.5"/></g>
<g id="n180"><circle class="m" cx="1208" cy="1221" r="4.5"/></g>
<g id="n181"><circle class="d" cx="1198" cy="1300" r="4.5"/></g>
<g id="n182"><circle class="w" cx="1210" cy="1346" r="4.5"/></g>
<g id="n183"><circle class="w" cx="1164" cy="1377" r="4.5"/></g>
<g id="n184"><circle class="w" cx="1143" cy="1390" r="4.5"/></g>
<g id="n185"><circle class="w" cx="1199" cy="1370" r="4.5"/></g>
<g id="n186"><circle class="p" cx="1243" cy="923" r="4.5"/></g>
<g id="n187"><circle class="p" cx="1252" cy="1030" r="4.5"/></g>
<g id="n188"><circle class="p" cx="1231" cy="1037" r="4.5"/></g>
<g id="n189"><circle class="p" cx="1248" cy="1051" r="4.5"/></g>
<g id="n190"><circle class="w" cx="1227" cy="1078" r="4.5"/></g>
<g id="n191"><circle class="d" cx="1220" cy="583" r="4.5"/></g>
<g id="n192"><circle class="g" cx="1272" cy="587" r="4.5"/></g>
<g id="n193"><circle class="p" cx="1264" cy="607" r="4.5"/></g>
<g id="n194"><circle class="g" cx="1236" cy="641" r="4.5"/></g>
<g id="n195"><circle class="g" cx="1287" cy="654" r="4.5"/></g>
<g id="n196"><circle class="w" cx="1255" cy="538" r="4.5"/></g>
<g id="n197"><circle class="w" cx="1276" cy="489" r="4.5"/></g>
<g id="n198"><circle class="w" cx="1324" cy="481" r="4.5"/></g>
<g id="n199"><circle class="w" cx="1272" cy="705" r="4.5"/></g>
<g id="n200"><circle class="g" cx="1226" cy="713" r="4.5"/></g>
<g id="n201"><circle class="g" cx="1262" cy="725" r="4.5"/></g>
<g id="n202"><circle class="g" cx="1284" cy="758" r="4.5"/></g>
<g id="n203"><circle class="g" cx="1216" cy="773" r="4.5"/></g>
<g id="n204"><circle class="g" cx="1244" cy="793" r="4.5"/></g>
<g id="n205"><circle class="g" cx="1272" cy="793" r="4.5"/></g>
<g id="n206"><circle class="g" cx="1271" cy="831" r="4.5"/></g>
<g id="n207"><circle class="g" cx="1242" cy="865" r="4.5"/></g>
<g id="n208"><circle class="g" cx="1299" cy="826" r="4.5"/></g>
<g id="n209"><circle class="g" cx="1309" cy="803" r="4.5"/></g>
<g id="n210"><circle class="g" cx="1305" cy="850" r="4.5"/></g>
<g id="n211"><circle class="g" cx="1302" cy="871" r="4.5"/></g>
<g id="n212"><circle class="g" cx="1334" cy="741" r="4.5"/></g>
<g id="n213"><circle class="g" cx="1337" cy="781" r="4.5"/></g>
<g id="n214"><circle class="g" cx="1335" cy="882" r="4.5"/></g>
<g id="n215"><circle class="w" cx="1330" cy="687" r="4.5"/></g>
<g id="n216"><circle class="w" cx="1357" cy="665" r="4.5"/></g>
<g id="n217"><circle class="d" cx="1507" cy="363" r="4.5"/></g>
<g id="n218"><circle class="d" cx="1529" cy="371" r="4.5"/></g>
<g id="n219"><circle class="w" cx="1509" cy="393" r="4.5"/></g>
<g id="n220"><circle class="w" cx="1368" cy="402" r="4.5"/></g>
<g id="n221"><circle class="w" cx="1401" cy="416" r="4.5"/></g>
<g id="n222"><circle class="w" cx="1380" cy="443" r="4.5"/></g>
<g id="n223"><circle class="g" cx="1467" cy="437" r="4.5"/></g>
<g id="n224"><circle class="d" cx="1489" cy="483" r="4.5"/></g>
<g id="n225"><circle class="d" cx="1512" cy="484" r="4.5"/></g>
<g id="n226"><circle class="d" cx="1405" cy="503" r="4.5"/></g>
<g id="n227"><circle class="g" cx="1504" cy="515" r="4.5"/></g>
<g id="n228"><circle class="g" cx="1487" cy="531" r="4.5"/></g>
<g id="n229"><circle class="g" cx="1410" cy="552" r="4.5"/></g>
<g id="n230"><circle class="d" cx="1362" cy="582" r="4.5"/></g>
<g id="n231"><circle class="g" cx="1405" cy="582" r="4.5"/></g>
<g id="n232"><circle class="g" cx="1460" cy="594" r="4.5"/></g>
<g id="n233"><circle class="p" cx="1530" cy="586" r="4.5"/></g>
<g id="n234"><circle class="g" cx="1652" cy="537" r="4.5"/></g>
<g id="n235"><circle class="g" cx="1621" cy="580" r="4.5"/></g>
<g id="n236"><circle class="w" cx="1610" cy="604" r="4.5"/></g>
<g id="n237"><circle class="l" cx="1670" cy="619" r="4.5"/></g>
<g id="n238"><circle class="g" cx="1598" cy="633" r="4.5"/></g>
<g id="n239"><circle class="g" cx="1423" cy="632" r="4.5"/></g>
<g id="n240"><circle class="g" cx="1474" cy="635" r="4.5"/></g>
<g id="n241"><circle class="g" cx="1386" cy="653" r="4.5"/></g>
<g id="n242"><circle class="g" cx="1413" cy="654" r="4.5"/></g>
<g id="n243"><circle class="g" cx="1504" cy="654" r="4.5"/></g>
<g id="n244"><circle class="g" cx="1446" cy="671" r="4.5"/></g>
<g id="n245"><circle class="g" cx="1467" cy="667" r="4.5"/></g>
<g id="n246"><circle class="g" cx="1539" cy="666" r="4.5"/></g>
<g id="n247"><circle class="g" cx="1485" cy="681" r="4.5"/></g>
<g id="n248"><circle class="g" cx="1554" cy="690" r="4.5"/></g>
<g id="n249"><circle class="g" cx="1579" cy="707" r="4.5"/></g>
<g id="n250"><circle class="g" cx="1405" cy="726" r="4.5"/></g>
<g id="n251"><circle class="g" cx="1427" cy="727" r="4.5"/></g>
<g id="n252"><circle class="g" cx="1449" cy="729" r="4.5"/></g>
<g id="n253"><circle class="g" cx="1470" cy="732" r="4.5"/></g>
<g id="n254"><circle class="g" cx="1497" cy="741" r="4.5"/></g>
<g id="n255"><circle class="g" cx="1391" cy="745" r="4.5"/></g>
<g id="n256"><circle class="g" cx="1413" cy="746" r="4.5"/></g>
<g id="n257"><circle class="g" cx="1435" cy="747" r="4.5"/></g>
<g id="n258"><circle class="g" cx="1457" cy="750" r="4.5"/></g>
<g id="n259"><circle class="g" cx="1478" cy="753" r="4.5"/></g>
<g id="n260"><circle class="g" cx="1503" cy="762" r="4.5"/></g>
<g id="n261"><circle class="g" cx="1592" cy="752" r="4.5"/></g>
<g id="n262"><circle class="g" cx="1378" cy="763" r="4.5"/></g>
<g id="n263"><circle class="g" cx="1399" cy="765" r="4.5"/></g>
<g id="n264"><circle class="g" cx="1422" cy="766" r="4.5"/></g>
<g id="n265"><circle class="g" cx="1443" cy="767" r="4.5"/></g>
<g id="n266"><circle class="g" cx="1465" cy="770" r="4.5"/></g>
<g id="n267"><circle class="g" cx="1486" cy="776" r="4.5"/></g>
<g id="n268"><circle class="w" cx="1511" cy="782" r="4.5"/></g>
<g id="n269"><circle class="g" cx="1386" cy="783" r="4.5"/></g>
<g id="n270"><circle class="g" cx="1407" cy="785" r="4.5"/></g>
<g id="n271"><circle class="g" cx="1429" cy="787" r="4.5"/></g>
<g id="n272"><circle class="g" cx="1451" cy="787" r="4.5"/></g>
<g id="n273"><circle class="g" cx="1573" cy="784" r="4.5"/></g>
<g id="n274"><circle class="g" cx="1472" cy="793" r="4.5"/></g>
<g id="n275"><circle class="g" cx="1495" cy="796" r="4.5"/></g>
<g id="n276"><circle class="g" cx="1374" cy="801" r="4.5"/></g>
<g id="n277"><circle class="g" cx="1395" cy="804" r="4.5"/></g>
<g id="n278"><circle class="g" cx="1417" cy="805" r="4.5"/></g>
<g id="n279"><circle class="g" cx="1461" cy="811" r="4.5"/></g>
<g id="n280"><circle class="g" cx="1482" cy="814" r="4.5"/></g>
<g id="n281"><circle class="g" cx="1504" cy="815" r="4.5"/></g>
<g id="n282"><circle class="g" cx="1581" cy="816" r="4.5"/></g>
<g id="n283"><circle class="g" cx="1381" cy="821" r="4.5"/></g>
<g id="n284"><circle class="g" cx="1405" cy="823" r="4.5"/></g>
<g id="n285"><circle class="g" cx="1427" cy="825" r="4.5"/></g>
<g id="n286"><circle class="g" cx="1449" cy="830" r="4.5"/></g>
<g id="n287"><circle class="g" cx="1470" cy="833" r="4.5"/></g>
<g id="n288"><circle class="g" cx="1492" cy="834" r="4.5"/></g>
<g id="n289"><circle class="g" cx="1391" cy="841" r="4.5"/></g>
<g id="n290"><circle class="g" cx="1414" cy="843" r="4.5"/></g>
<g id="n291"><circle class="g" cx="1436" cy="847" r="4.5"/></g>
<g id="n292"><circle class="g" cx="1458" cy="851" r="4.5"/></g>
<g id="n293"><circle class="g" cx="1479" cy="853" r="4.5"/></g>
<g id="n294"><circle class="g" cx="1557" cy="847" r="4.5"/></g>
<g id="n295"><circle class="g" cx="1401" cy="860" r="4.5"/></g>
<g id="n296"><circle class="w" cx="1423" cy="865" r="4.5"/></g>
<g id="n297"><circle class="g" cx="1444" cy="868" r="4.5"/></g>
<g id="n298"><circle class="g" cx="1548" cy="867" r="4.5"/></g>
<g id="n299"><circle class="g" cx="1522" cy="886" r="4.5"/></g>
<g id="n300"><circle class="g" cx="1429" cy="906" r="4.5"/></g>
<g id="n301"><circle class="w" cx="1487" cy="913" r="4.5"/></g>
<g id="n302"><circle class="g" cx="1568" cy="924" r="4.5"/></g>
<g id="n303"><circle class="w" cx="1383" cy="940" r="4.5"/></g>
<g id="n304"><circle class="g" cx="1551" cy="943" r="4.5"/></g>
<g id="hub-green"><circle class="g" cx="1439" cy="806" r="16.5"/></g>
<g id="n305"><circle class="g" cx="1628" cy="683" r="4.5"/></g>
<g id="n306"><circle class="g" cx="1604" cy="727" r="4.5"/></g>
<g id="n307"><circle class="g" cx="1643" cy="760" r="4.5"/></g>
<g id="n308"><circle class="g" cx="1670" cy="787" r="4.5"/></g>
<g id="n309"><circle class="g" cx="1640" cy="813" r="4.5"/></g>
<g id="n310"><circle class="g" cx="1655" cy="898" r="4.5"/></g>
<g id="n311"><circle class="l" cx="1607" cy="901" r="4.5"/></g>
<g id="n312"><circle class="g" cx="1683" cy="848" r="4.5"/></g>
<g id="n313"><circle class="g" cx="1685" cy="884" r="4.5"/></g>
<g id="n314"><circle class="g" cx="1701" cy="899" r="4.5"/></g>
<g id="n315"><circle class="w" cx="1701" cy="498" r="4.5"/></g>
<g id="n316"><circle class="d" cx="1747" cy="513" r="4.5"/></g>
<g id="n317"><circle class="w" cx="1725" cy="543" r="4.5"/></g>
<g id="n318"><circle class="l" cx="1784" cy="615" r="4.5"/></g>
<g id="n319"><circle class="l" cx="1697" cy="666" r="4.5"/></g>
<g id="n320"><circle class="l" cx="1759" cy="659" r="4.5"/></g>
<g id="n321"><circle class="l" cx="1871" cy="655" r="4.5"/></g>
<g id="n322"><circle class="l" cx="1835" cy="675" r="4.5"/></g>
<g id="n323"><circle class="l" cx="1791" cy="683" r="4.5"/></g>
<g id="n324"><circle class="l" cx="1744" cy="699" r="4.5"/></g>
<g id="n325"><circle class="l" cx="1834" cy="703" r="4.5"/></g>
<g id="n326"><circle class="l" cx="1864" cy="707" r="4.5"/></g>
<g id="n327"><circle class="l" cx="1943" cy="695" r="4.5"/></g>
<g id="n328"><circle class="g" cx="1702" cy="721" r="4.5"/></g>
<g id="n329"><circle class="g" cx="1796" cy="720" r="4.5"/></g>
<g id="n330"><circle class="l" cx="1732" cy="732" r="4.5"/></g>
<g id="n331"><circle class="l" cx="1858" cy="728" r="4.5"/></g>
<g id="n332"><circle class="l" cx="1905" cy="719" r="4.5"/></g>
<g id="n333"><circle class="g" cx="1826" cy="747" r="4.5"/></g>
<g id="n334"><circle class="w" cx="1893" cy="745" r="4.5"/></g>
<g id="n335"><circle class="l" cx="1769" cy="775" r="4.5"/></g>
<g id="n336"><circle class="l" cx="1790" cy="769" r="4.5"/></g>
<g id="n337"><circle class="l" cx="1838" cy="777" r="4.5"/></g>
<g id="n338"><circle class="l" cx="1866" cy="773" r="4.5"/></g>
<g id="n339"><circle class="l" cx="1889" cy="770" r="4.5"/></g>
<g id="hub-lavender"><circle class="l" cx="1766" cy="798" r="8.5"/></g>
<g id="n340"><circle class="l" cx="1798" cy="789" r="4.5"/></g>
<g id="n341"><circle class="w" cx="1785" cy="807" r="4.5"/></g>
<g id="n342"><circle class="g" cx="1804" cy="839" r="6"/></g>
<g id="n343"><circle class="g" cx="1839" cy="823" r="4.5"/></g>
<g id="n344"><circle class="g" cx="1915" cy="821" r="4.5"/></g>
<g id="n345"><circle class="w" cx="1971" cy="820" r="4.5"/></g>
<g id="n346"><circle class="g" cx="1831" cy="843" r="4.5"/></g>
<g id="n347"><circle class="g" cx="1854" cy="840" r="4.5"/></g>
<g id="n348"><circle class="g" cx="1911" cy="843" r="4.5"/></g>
<g id="n349"><circle class="g" cx="1823" cy="864" r="4.5"/></g>
<g id="n350"><circle class="w" cx="1846" cy="860" r="4.5"/></g>
<g id="n351"><circle class="g" cx="2035" cy="914" r="4.5"/></g>
<g id="n352"><circle class="g" cx="1295" cy="925" r="4.5"/></g>
<g id="n353"><circle class="g" cx="1402" cy="959" r="4.5"/></g>
<g id="n354"><circle class="g" cx="1317" cy="971" r="4.5"/></g>
<g id="n355"><circle class="g" cx="1346" cy="997" r="4.5"/></g>
<g id="n356"><circle class="g" cx="1392" cy="998" r="4.5"/></g>
<g id="n357"><circle class="g" cx="1357" cy="1029" r="4.5"/></g>
<g id="n358"><circle class="g" cx="1477" cy="963" r="4.5"/></g>
<g id="n359"><circle class="g" cx="1460" cy="983" r="4.5"/></g>
<g id="n360"><circle class="w" cx="1427" cy="1021" r="4.5"/></g>
<g id="n361"><circle class="w" cx="1418" cy="1055" r="4.5"/></g>
<g id="n362"><circle class="w" cx="1376" cy="1068" r="4.5"/></g>
<g id="n363"><circle class="w" cx="1607" cy="931" r="4.5"/></g>
<g id="n364"><circle class="l" cx="1639" cy="918" r="4.5"/></g>
<g id="n365"><circle class="w" cx="1596" cy="955" r="4.5"/></g>
<g id="n366"><circle class="g" cx="1566" cy="963" r="4.5"/></g>
<g id="n367"><circle class="l" cx="1677" cy="973" r="4.5"/></g>
<g id="n368"><circle class="w" cx="1646" cy="1037" r="4.5"/></g>
<g id="n369"><circle class="w" cx="1569" cy="1058" r="4.5"/></g>
<g id="n370"><circle class="w" cx="1608" cy="1064" r="4.5"/></g>
<g id="n371"><circle class="g" cx="1634" cy="1069" r="4.5"/></g>
<g id="n372"><circle class="w" cx="1657" cy="1084" r="4.5"/></g>
<g id="n373"><circle class="w" cx="1498" cy="1062" r="4.5"/></g>
<g id="n374"><circle class="l" cx="1464" cy="1106" r="4.5"/></g>
<g id="n375"><circle class="w" cx="1448" cy="1122" r="4.5"/></g>
<g id="n376"><circle class="w" cx="1487" cy="1117" r="4.5"/></g>
<g id="n377"><circle class="m" cx="1471" cy="1132" r="4.5"/></g>
<g id="n378"><circle class="w" cx="1592" cy="1113" r="4.5"/></g>
<g id="n379"><circle class="w" cx="1572" cy="1130" r="4.5"/></g>
<g id="n380"><circle class="w" cx="1662" cy="1129" r="4.5"/></g>
<g id="n381"><circle class="g" cx="1609" cy="1154" r="4.5"/></g>
<g id="hub-yellow"><circle class="y" cx="1423" cy="1158" r="10.5"/></g>
<g id="n382"><circle class="w" cx="1395" cy="1159" r="4.5"/></g>
<g id="n383"><circle class="w" cx="1484" cy="1160" r="4.5"/></g>
<g id="n384"><circle class="w" cx="1517" cy="1171" r="4.5"/></g>
<g id="n385"><circle class="w" cx="1316" cy="1136" r="4.5"/></g>
<g id="n386"><circle class="w" cx="1315" cy="1171" r="4.5"/></g>
<g id="n387"><circle class="m" cx="1389" cy="1180" r="4.5"/></g>
<g id="n388"><circle class="w" cx="1410" cy="1176" r="4.5"/></g>
<g id="n389"><circle class="w" cx="1433" cy="1183" r="4.5"/></g>
<g id="n390"><circle class="w" cx="1416" cy="1197" r="4.5"/></g>
<g id="n391"><circle class="m" cx="1223" cy="1179" r="4.5"/></g>
<g id="n392"><circle class="w" cx="1264" cy="1212" r="4.5"/></g>
<g id="n393"><circle class="w" cx="1499" cy="1210" r="4.5"/></g>
<g id="n394"><circle class="w" cx="1466" cy="1220" r="4.5"/></g>
<g id="n395"><circle class="w" cx="1536" cy="1224" r="4.5"/></g>
<g id="n396"><circle class="w" cx="1575" cy="1221" r="4.5"/></g>
<g id="n397"><circle class="w" cx="1491" cy="1239" r="4.5"/></g>
<g id="n398"><circle class="m" cx="1381" cy="1225" r="4.5"/></g>
<g id="n399"><circle class="w" cx="1346" cy="1237" r="4.5"/></g>
<g id="n400"><circle class="w" cx="1413" cy="1252" r="4.5"/></g>
<g id="n401"><circle class="w" cx="1581" cy="1256" r="4.5"/></g>
<g id="n402"><circle class="w" cx="1610" cy="1248" r="4.5"/></g>
<g id="n403"><circle class="w" cx="1670" cy="1250" r="4.5"/></g>
<g id="n404"><circle class="w" cx="1666" cy="1284" r="4.5"/></g>
<g id="n405"><circle class="w" cx="1291" cy="1261" r="5"/></g>
<g id="n406"><circle class="m" cx="1359" cy="1264" r="4.5"/></g>
<g id="n407"><circle class="w" cx="1227" cy="1282" r="4.5"/></g>
<g id="n408"><circle class="w" cx="1272" cy="1284" r="4.5"/></g>
<g id="n409"><circle class="w" cx="1407" cy="1276" r="4.5"/></g>
<g id="n410"><circle class="g" cx="1459" cy="1289" r="4.5"/></g>
<g id="n411"><circle class="w" cx="1575" cy="1295" r="4.5"/></g>
<g id="n412"><circle class="w" cx="1289" cy="1313" r="4.5"/></g>
<g id="n413"><circle class="w" cx="1400" cy="1313" r="4.5"/></g>
<g id="n414"><circle class="w" cx="1361" cy="1317" r="4.5"/></g>
<g id="n415"><circle class="w" cx="1583" cy="1334" r="4.5"/></g>
<g id="n416"><circle class="d" cx="1274" cy="1345" r="4.5"/></g>
<g id="n417"><circle class="m" cx="1439" cy="1329" r="4.5"/></g>
<g id="n418"><circle class="m" cx="1422" cy="1362" r="4.5"/></g>
<g id="n419"><circle class="m" cx="1457" cy="1358" r="4.5"/></g>
<g id="n420"><circle class="m" cx="1442" cy="1373" r="4.5"/></g>
<g id="n421"><circle class="w" cx="1320" cy="1397" r="4.5"/></g>
<g id="n422"><circle class="w" cx="1346" cy="1401" r="4.5"/></g>
<g id="n423"><circle class="w" cx="1330" cy="1417" r="4.5"/></g>
<g id="n424"><circle class="g" cx="1506" cy="1401" r="4.5"/></g>
<g id="n425"><circle class="g" cx="1477" cy="1412" r="4.5"/></g>
<g id="n426"><circle class="g" cx="1521" cy="1429" r="4.5"/></g>
<g id="n427"><circle class="g" cx="1474" cy="1445" r="4.5"/></g>
<g id="n428"><circle class="d" cx="1685" cy="917" r="4.5"/></g>
<g id="n429"><circle class="l" cx="1711" cy="920" r="4.5"/></g>
<g id="n430"><circle class="g" cx="1787" cy="918" r="4.5"/></g>
<g id="n431"><circle class="w" cx="1837" cy="930" r="4.5"/></g>
<g id="n432"><circle class="w" cx="1857" cy="922" r="4.5"/></g>
<g id="n433"><circle class="g" cx="1759" cy="966" r="4.5"/></g>
<g id="n434"><circle class="w" cx="1826" cy="1002" r="4.5"/></g>
<g id="n435"><circle class="w" cx="1859" cy="1009" r="4.5"/></g>
<g id="n436"><circle class="w" cx="1693" cy="1049" r="4.5"/></g>
<g id="n437"><circle class="w" cx="1750" cy="1050" r="5.5"/></g>
<g id="n438"><circle class="w" cx="1926" cy="1026" r="4.5"/></g>
<g id="n439"><circle class="w" cx="1971" cy="966" r="6"/></g>
<g id="n440"><circle class="g" cx="2048" cy="931" r="4.5"/></g>
<g id="n441"><circle class="g" cx="1991" cy="955" r="4.5"/></g>
<g id="n442"><circle class="g" cx="2032" cy="982" r="4.5"/></g>
<g id="n443"><circle class="g" cx="2071" cy="1025" r="4.5"/></g>
<g id="n444"><circle class="g" cx="2032" cy="1027" r="4.5"/></g>
<g id="n445"><circle class="g" cx="1997" cy="1048" r="4.5"/></g>
<g id="n446"><circle class="g" cx="2018" cy="1045" r="4.5"/></g>
<g id="n447"><circle class="g" cx="2041" cy="1048" r="4.5"/></g>
<g id="n448"><circle class="g" cx="2072" cy="1082" r="4.5"/></g>
<g id="n449"><circle class="g" cx="2030" cy="1088" r="4.5"/></g>
<g id="n450"><circle class="g" cx="2034" cy="1121" r="5.5"/></g>
<g id="n451"><circle class="g" cx="2055" cy="1127" r="4.5"/></g>
<g id="n452"><circle class="g" cx="2023" cy="1149" r="4.5"/></g>
<g id="n453"><circle class="g" cx="2056" cy="1159" r="4.5"/></g>
<g id="n454"><circle class="g" cx="2037" cy="1170" r="4.5"/></g>
<g id="n455"><circle class="d" cx="1824" cy="1096" r="4.5"/></g>
<g id="n456"><circle class="w" cx="1790" cy="1107" r="4.5"/></g>
<g id="n457"><circle class="w" cx="1826" cy="1117" r="4.5"/></g>
<g id="n458"><circle class="w" cx="1724" cy="1123" r="4.5"/></g>
<g id="hub-red"><circle class="r" cx="1706" cy="1138" r="8"/></g>
<g id="n459"><circle class="r" cx="1743" cy="1134" r="4.5"/></g>
<g id="n460"><circle class="r" cx="1744" cy="1156" r="4.5"/></g>
<g id="n461"><circle class="w" cx="1723" cy="1151" r="4.5"/></g>
<g id="n462"><circle class="r" cx="1697" cy="1159" r="4.5"/></g>
<g id="n463"><circle class="g" cx="1728" cy="1173" r="4.5"/></g>
<g id="n464"><circle class="r" cx="1707" cy="1179" r="4.5"/></g>
<g id="n465"><circle class="w" cx="1815" cy="1166" r="4.5"/></g>
<g id="n466"><circle class="w" cx="1855" cy="1165" r="4.5"/></g>
<g id="n467"><circle class="w" cx="1844" cy="1183" r="4.5"/></g>
<g id="n468"><circle class="w" cx="1761" cy="1200" r="4.5"/></g>
<g id="n469"><circle class="r" cx="1787" cy="1228" r="4.5"/></g>
<g id="n470"><circle class="w" cx="1807" cy="1250" r="4.5"/></g>
<g id="n471"><circle class="r" cx="1868" cy="1239" r="4.5"/></g>
<g id="n472"><circle class="r" cx="1897" cy="1230" r="4.5"/></g>
<g id="n473"><circle class="r" cx="1909" cy="1248" r="4.5"/></g>
<g id="n474"><circle class="r" cx="1888" cy="1252" r="4.5"/></g>
<g id="n475"><circle class="r" cx="1874" cy="1271" r="4.5"/></g>
<g id="n476"><circle class="r" cx="1896" cy="1272" r="4.5"/></g>
<g id="n477"><circle class="w" cx="1686" cy="1274" r="4.5"/></g>
<g id="n478"><circle class="w" cx="1796" cy="1295" r="4.5"/></g>
<g id="n479"><circle class="r" cx="1726" cy="1311" r="5.5"/></g>
<g id="n480"><circle class="r" cx="1695" cy="1319" r="4.5"/></g>
<g id="n481"><circle class="d" cx="1749" cy="1327" r="4.5"/></g>
<g id="n482"><circle class="w" cx="1793" cy="1336" r="4.5"/></g>
<g id="n483"><circle class="w" cx="1738" cy="1346" r="4.5"/></g>
<g id="n484"><circle class="d" cx="1687" cy="1355" r="4.5"/></g>
<g id="n485"><circle class="r" cx="1715" cy="1355" r="4.5"/></g>
</g>
</svg>
